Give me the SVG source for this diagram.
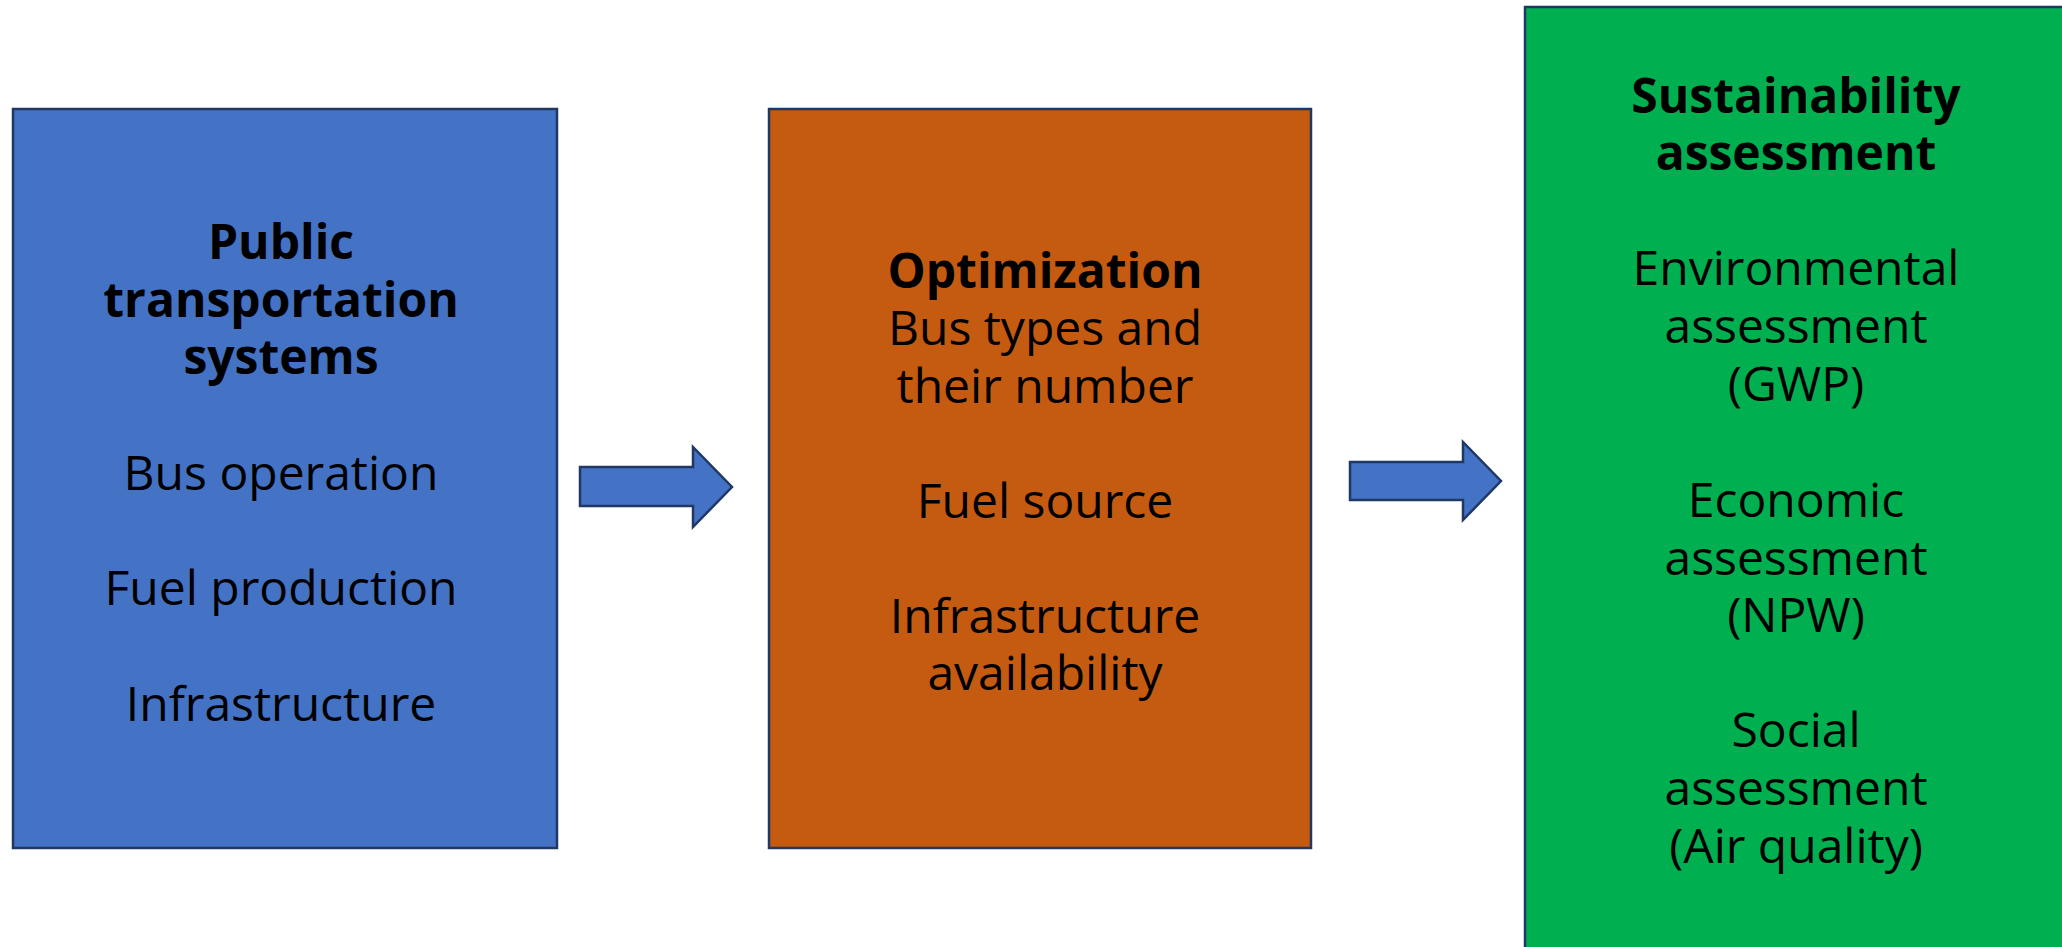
<svg xmlns="http://www.w3.org/2000/svg" width="2062" height="947" viewBox="0 0 2062 947">
<style>
.box{stroke:#1F3864;stroke-width:2.5}
.arrow{fill:#4472C4;stroke:#1F3864;stroke-width:2.5;stroke-linejoin:miter}
text{font-family:"Open Sans","Noto Sans","Liberation Sans",sans-serif;font-size:48px;fill:#000;text-anchor:middle}
.b{font-weight:bold}
</style>
<rect width="2062" height="947" fill="#FFFFFF"/>
<g id="node-public">
<rect class="box" x="13" y="109" width="544" height="739" fill="#4472C4"/>
<text class="b" x="281" y="259">Public</text>
<text class="b" x="281" y="317">transportation</text>
<text class="b" x="281" y="374">systems</text>
<text x="281" y="490">Bus operation</text>
<text x="281" y="605">Fuel production</text>
<text x="281" y="721">Infrastructure</text>
</g>
<g id="node-optimization">
<rect class="box" x="769" y="109" width="542" height="739" fill="#C55A11"/>
<text class="b" x="1045" y="288">Optimization</text>
<text x="1045" y="345">Bus types and</text>
<text x="1045" y="403">their number</text>
<text x="1045" y="518">Fuel source</text>
<text x="1045" y="633">Infrastructure</text>
<text x="1045" y="690">availability</text>
</g>
<g id="node-sustainability">
<rect class="box" x="1525" y="7" width="545" height="945" fill="#00B050"/>
<text class="b" x="1796" y="113">Sustainability</text>
<text class="b" x="1796" y="170">assessment</text>
<text x="1796" y="285">Environmental</text>
<text x="1796" y="343">assessment</text>
<text x="1796" y="401">(GWP)</text>
<text x="1796" y="517">Economic</text>
<text x="1796" y="575">assessment</text>
<text x="1796" y="632">(NPW)</text>
<text x="1796" y="747">Social</text>
<text x="1796" y="805">assessment</text>
<text x="1796" y="863">(Air quality)</text>
</g>
<g id="connectors">
<polygon class="arrow" points="580,467 693,467 693,447 732,487 693,527 693,506 580,506"/>
<polygon class="arrow" points="1350,462 1463,462 1463,442 1501,481 1463,520 1463,500 1350,500"/>
</g>
</svg>
